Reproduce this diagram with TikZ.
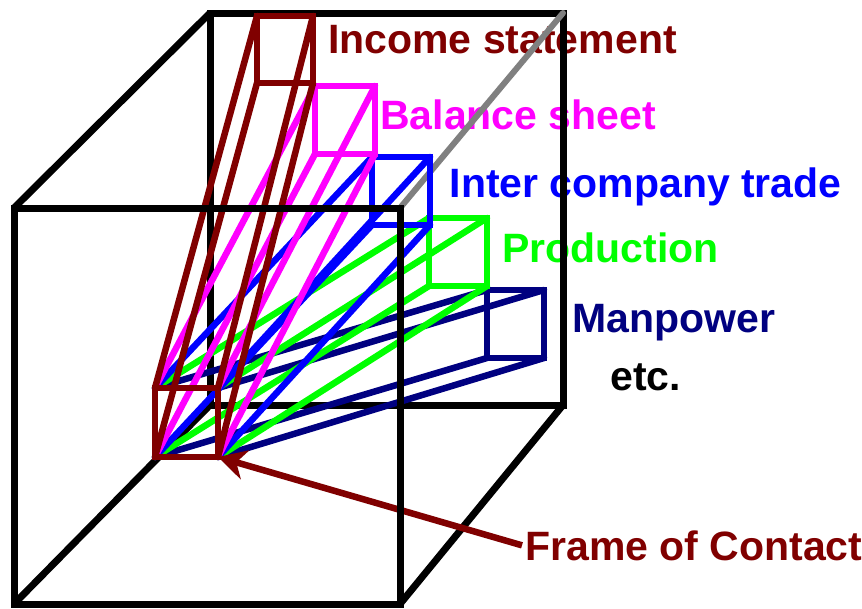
\documentclass[tikz,border=0pt]{standalone}
\usepackage{fontspec}
\setmainfont{Liberation Sans}
\usetikzlibrary{arrows.meta}
\definecolor{cmaroon}{HTML}{800000}
\definecolor{cmag}{HTML}{FF00FF}
\definecolor{cblue}{HTML}{0000FF}
\definecolor{cgreen}{HTML}{00FF00}
\definecolor{cnavy}{HTML}{000080}
\definecolor{cgray}{HTML}{808080}
\tikzset{
  cubeline/.style={line width=7pt, black, line join=miter},
  hiddenline/.style={line width=6pt, cgray, line cap=round},
  fanline/.style={line width=6.5pt, line cap=round},
  boxline/.style={line width=6.5pt, line join=miter},
  lbl/.style={font=\fontsize{41}{49}\selectfont\bfseries, inner sep=0pt, anchor=base west},
  pointer/.style={line width=6.5pt, cmaroon, -{Stealth[length=28pt, width=30pt, inset=9pt]}},
}
\begin{document}
\begin{tikzpicture}[x=1pt, y=-1pt]
\useasboundingbox (0,0) rectangle (862,608);
% cube corners
\coordinate (cf-tl) at (14,208);
\coordinate (cf-tr) at (400,208);
\coordinate (cf-br) at (400,604);
\coordinate (cf-bl) at (14,604);
\coordinate (cb-tl) at (210,13);
\coordinate (cb-tr) at (563,13);
\coordinate (cb-br) at (563,405);
\coordinate (cb-bl) at (210,405);
% frame of contact
\coordinate (fr-tl) at (155,388);
\coordinate (fr-tr) at (218,388);
\coordinate (fr-br) at (218,457);
\coordinate (fr-bl) at (155,457);
% boxes
\coordinate (is-tl) at (257,16);  \coordinate (is-tr) at (313,16);
\coordinate (is-bl) at (257,83);  \coordinate (is-br) at (313,83);
\coordinate (bs-tl) at (315,86);  \coordinate (bs-tr) at (375,86);
\coordinate (bs-bl) at (315,154); \coordinate (bs-br) at (375,154);
\coordinate (ic-tl) at (372,157); \coordinate (ic-tr) at (430,157);
\coordinate (ic-bl) at (372,225); \coordinate (ic-br) at (430,225);
\coordinate (pr-tl) at (429,218); \coordinate (pr-tr) at (487,218);
\coordinate (pr-bl) at (429,286); \coordinate (pr-br) at (487,286);
\coordinate (mp-tl) at (487,290); \coordinate (mp-tr) at (544,290);
\coordinate (mp-bl) at (487,358); \coordinate (mp-br) at (544,358);
% labels
\node[lbl, cmaroon] (tis) at (328,53) {Income statement};
\node[lbl, cmag] (tbs) at (380,129) {Balance sheet};
\node[lbl, cblue] (tic) at (449.5,197) {Inter company trade};
\node[lbl, cgreen] (tpr) at (502,262) {Production};
\node[lbl, cnavy] (tmp) at (572,332) {Manpower};
\node[lbl, black] (tetc) at (610,390) {etc.};
\node[lbl, cmaroon] (tfc) at (525,560) {Frame of Contact};
% back part of cube
\draw[cubeline] (cb-tl) -- (cb-tr) -- (cb-br) -- (cb-bl) -- cycle;
\draw[cubeline] (cf-tl) -- (cb-tl);
\draw[cubeline] (cf-bl) -- (cb-bl);
\draw[cubeline] (cf-br) -- (cb-br);
\draw[hiddenline] (cf-tr) -- (cb-tr);
% fans and boxes
\foreach \n/\c in {mp/cnavy, pr/cgreen, ic/cblue, bs/cmag, is/cmaroon} {
  \draw[fanline, \c] (fr-tl) -- (\n-tl) (fr-tr) -- (\n-tr) (fr-bl) -- (\n-bl) (fr-br) -- (\n-br);
  \draw[boxline, \c] (\n-tl) -- (\n-tr) -- (\n-br) -- (\n-bl) -- cycle;
}
\draw[boxline, cmaroon] (fr-tl) -- (fr-tr) -- (fr-br) -- (fr-bl) -- cycle;
% pointer
\draw[pointer] ([xshift=-3pt]tfc.west) -- (fr-br);
% front face of cube
\draw[cubeline] (cf-tl) -- (cf-tr) -- (cf-br) -- (cf-bl) -- cycle;
\end{tikzpicture}
\end{document}
